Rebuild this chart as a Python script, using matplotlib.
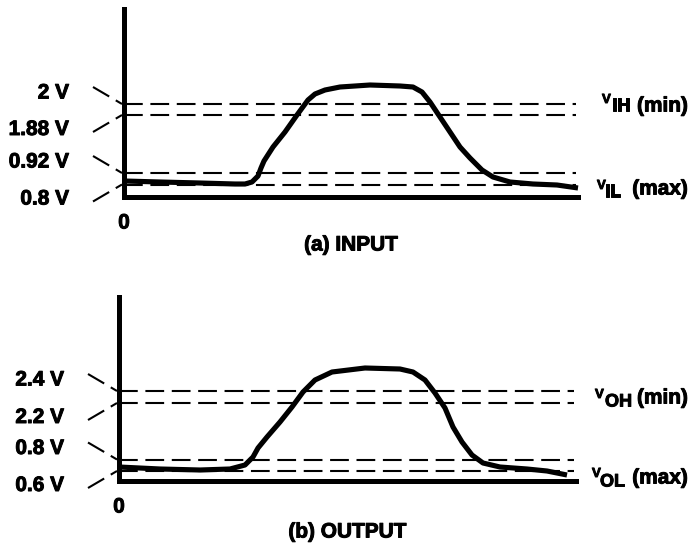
import matplotlib
matplotlib.use('Agg')
import matplotlib.pyplot as plt
import matplotlib.patheffects as pe

plt.rcParams['font.family'] = ['Liberation Sans', 'DejaVu Sans']
plt.rcParams['font.weight'] = 'bold'
plt.rcParams['lines.scale_dashes'] = False

W, H = 693, 546

# ---------------- data (schematic units: time, level above baseline) -------------
in_levels = [93, 82, 24, 12.5]
in_level_labels = ['2 V', '1.88 V', '0.92 V', '0.8 V']
in_t = [0, 36, 76, 111, 121, 128, 134, 137, 140, 149, 161, 173, 184, 191, 201,
        216, 246, 276, 289, 298, 306, 316, 326, 336, 346, 358, 369, 386, 409,
        433, 454]
in_v = [16, 15, 14, 13, 13, 15, 21, 29, 36, 50, 65, 82, 97, 103, 107,
        110, 112, 111, 110, 105, 95, 80, 65, 50, 39, 27, 20, 15, 13,
        12, 9]

out_levels = [90, 78, 21.5, 10]
out_level_labels = ['2.4 V', '2.2 V', '0.8 V', '0.6 V']
out_t = [0, 41, 81, 111, 126, 134, 139, 148, 161, 173, 184, 196, 213, 246, 281,
         294, 306, 316, 326, 334, 343, 353, 364, 381, 408, 428, 448]
out_v = [14, 12, 11, 12, 16, 24, 33, 44, 59, 74, 89, 101, 109, 113, 112,
         109, 101, 88, 73, 54, 39, 26, 18, 14, 12, 10, 6]

fig = plt.figure(figsize=(W / 100, H / 100), dpi=100)
heavy = [pe.withStroke(linewidth=0.7, foreground='black')]


def px_axes(l, t, r, b):
    return fig.add_axes([l / W, 1 - b / H, (r - l) / W, (b - t) / H])


def label(ax, x, y, s, fs, ha='left'):
    ax.text(x, y, s, ha=ha, va='center', fontsize=fs, fontweight='bold',
            path_effects=heavy, clip_on=False)


def panel(ax, xmax, ymax, levels, labels, t, v, title, right_labels):
    ax.set_xlim(0, xmax)
    ax.set_ylim(0, ymax)
    for s in ['top', 'right']:
        ax.spines[s].set_visible(False)
    for s in ['left', 'bottom']:
        ax.spines[s].set_linewidth(3.6)
        ax.spines[s].set_capstyle('projecting')
    ax.set_xticks([])
    ax.set_yticks([])
    ax.patch.set_alpha(0)
    dash_end = xmax - 2
    for i, (lv, lab) in enumerate(zip(levels, labels)):
        ax.plot([0, dash_end], [lv, lv], color='k', lw=1.5, dashes=(13.5, 5.5))
        upper = (i % 2 == 0)
        y0 = lv + 17 if upper else lv - 17
        ax.plot([-31, -2], [y0, lv], color='k', lw=1.5, dashes=(13.5, 5.5),
                clip_on=False)
        ly = lv + 11 if upper else lv - 14.5
        label(ax, -55, ly, lab, 15, ha='right')
    ax.plot(t, v, color='k', lw=3.7, solid_joinstyle='round',
            solid_capstyle='butt', clip_on=False)
    label(ax, 0, -26, '0', 15, ha='center')
    label(ax, xmax / 2, title[1], title[0], 15, ha='center')
    for (txt, x, y, fs, ha) in right_labels:
        label(ax, x, y, txt, fs, ha=ha)


ax1 = px_axes(124, 9, 578, 197)
panel(ax1, 454, 188, in_levels, in_level_labels, in_t, in_v,
      ('(a) INPUT', -48),
      [('V', 478, 97, 9.5, 'left'), ('IH', 488, 91, 13, 'left'),
       ('(min)', 564, 91, 15, 'right'),
       ('V', 473, 11, 9.5, 'left'), ('IL', 481, 5, 13, 'left'),
       ('(max)', 564, 8, 15, 'right')])

ax2 = px_axes(119, 297, 576, 481)
panel(ax2, 457, 184, out_levels, out_level_labels, out_t, out_v,
      ('(b) OUTPUT', -51),
      [('V', 476, 86, 9.5, 'left'), ('OH', 486, 79, 13, 'left'),
       ('(min)', 569, 83, 15, 'right'),
       ('V', 473, 7, 9.5, 'left'), ('OL', 481, -1, 13, 'left'),
       ('(max)', 569, 3, 15, 'right')])

fig.savefig('out.png', dpi=100, facecolor='white')
